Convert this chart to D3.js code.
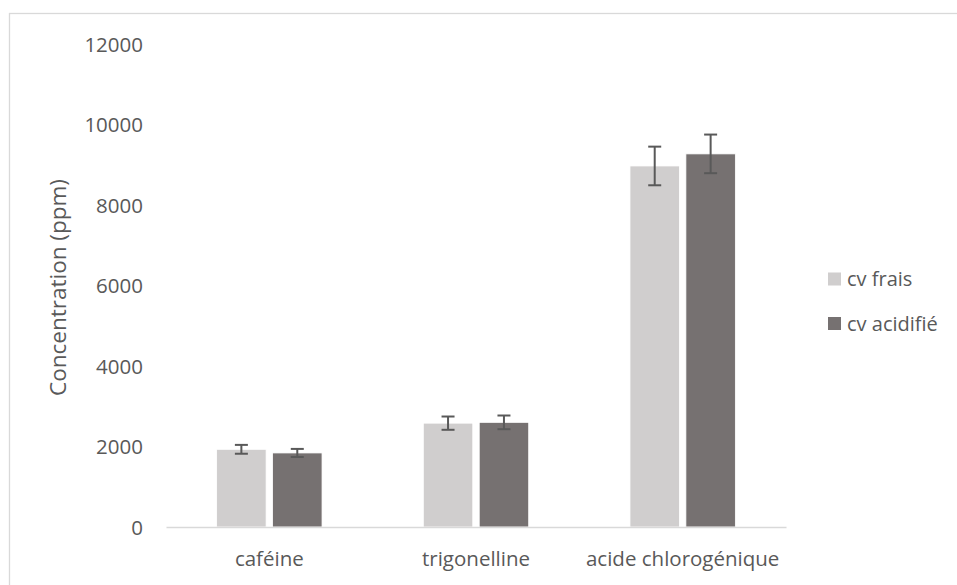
<!DOCTYPE html>
<html>
<head>
<meta charset="utf-8">
<script src="https://cdn.jsdelivr.net/npm/d3@7"></script>
<style>
  html, body { margin: 0; padding: 0; background: #fff; }
  svg { display: block; }
  text { font-family: "Open Sans", "Liberation Sans", sans-serif; fill: #595959; }
</style>
</head>
<body>
<svg id="chart" width="957" height="585"></svg>
<script>
const categories = ["caféine", "trigonelline", "acide chlorogénique"];
const seriesNames = ["cv frais", "cv acidifié"];
const seriesColors = ["#D0CECE", "#767171"];
const frais = [1930, 2580, 8970];
const fraisErr = [110, 165, 480];
const acidifie = [1840, 2600, 9270];
const acidifieErr = [100, 170, 480];
const yTicks = [0, 2000, 4000, 6000, 8000, 10000, 12000];
const yTitle = "Concentration (ppm)";

const svg = d3.select("#chart");
const W = 957, H = 585;
const plot = { left: 166, right: 786, top: 44, bottom: 527 };

// outer border
svg.append("rect").attr("x", 9.5).attr("y", 13.5).attr("width", W).attr("height", H)
  .attr("fill", "none").attr("stroke", "#D9D9D9").attr("stroke-width", 1.3);

const x = d3.scaleBand().domain(categories).range([plot.left, plot.right]).paddingInner(0.49).paddingOuter(0.245);
const xs = d3.scaleBand().domain(seriesNames).range([0, x.bandwidth()]).paddingInner(0.115);
const y = d3.scaleLinear().domain([0, 12000]).range([plot.bottom, plot.top]);

const seriesData = [
  { name: seriesNames[0], vals: frais, errs: fraisErr, color: seriesColors[0] },
  { name: seriesNames[1], vals: acidifie, errs: acidifieErr, color: seriesColors[1] }
];

// y axis labels
const yAxis = d3.axisLeft(y).tickValues(yTicks).tickSize(0).tickPadding(0).tickFormat(d3.format("d"));
const ya = svg.append("g").attr("transform", `translate(143,0)`).call(yAxis);
ya.select(".domain").remove();
ya.selectAll("text").style("font-size", "20.5px").attr("fill", "#595959").attr("dy", "0.35em");

// bars
seriesData.forEach(s => {
  const g = svg.append("g");
  g.selectAll("rect").data(categories).join("rect")
    .attr("x", c => x(c) + xs(s.name))
    .attr("y", (c, i) => y(s.vals[i]))
    .attr("width", xs.bandwidth())
    .attr("height", (c, i) => y(0) - y(s.vals[i]))
    .attr("fill", s.color)
    .attr("stroke", "#fff").attr("stroke-width", 0.8);
});

// x axis baseline
const xAxis = d3.axisBottom(x).tickSize(0).tickPadding(24);
const xa = svg.append("g").attr("transform", `translate(0,${plot.bottom})`).call(xAxis);
xa.select(".domain").attr("stroke", "#D9D9D9").attr("stroke-width", 1.5);
xa.selectAll("text").style("font-size", "20.5px").attr("fill", "#595959");

// error bars
seriesData.forEach(s => {
  const g = svg.append("g").attr("stroke", "#595959").attr("stroke-width", 2);
  categories.forEach((c, i) => {
    const cx = x(c) + xs(s.name) + xs.bandwidth() / 2;
    const y1 = y(s.vals[i] + s.errs[i]), y2 = y(s.vals[i] - s.errs[i]);
    g.append("line").attr("x1", cx).attr("x2", cx).attr("y1", y1).attr("y2", y2);
    g.append("line").attr("x1", cx - 6.5).attr("x2", cx + 6.5).attr("y1", y1).attr("y2", y1);
    g.append("line").attr("x1", cx - 6.5).attr("x2", cx + 6.5).attr("y1", y2).attr("y2", y2);
  });
});

// y title
svg.append("text").attr("transform", `translate(66,${(plot.top + plot.bottom) / 2 + 2}) rotate(-90)`)
  .attr("text-anchor", "middle").style("font-size", "22.5px").text(yTitle);

// legend
const lg = svg.append("g");
seriesData.forEach((s, i) => {
  const cy = 279 + i * 44.5;
  lg.append("rect").attr("x", 828).attr("y", cy - 6.5).attr("width", 13).attr("height", 13).attr("fill", s.color);
  lg.append("text").attr("x", 847).attr("y", cy).attr("dy", "0.35em").style("font-size", "20px").text(s.name);
});
</script>
</body>
</html>
